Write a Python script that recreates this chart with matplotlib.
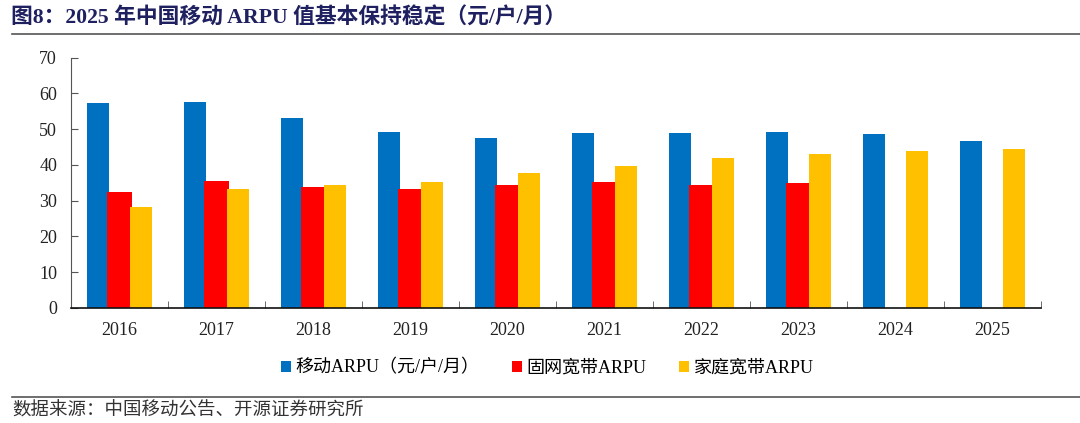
import numpy as np
import matplotlib
matplotlib.use('Agg')
import matplotlib.pyplot as plt
from matplotlib.ticker import FixedLocator

plt.rcParams['font.family'] = ['Liberation Serif', 'Noto Sans CJK SC', 'DejaVu Sans']

# data
years = ['2016', '2017', '2018', '2019', '2020', '2021', '2022', '2023', '2024', '2025']
mobile_arpu = [57.4, 57.6, 53.1, 49.1, 47.4, 48.8, 49.0, 49.3, 48.5, 46.7]
fixed_bb_arpu = [32.4, 35.6, 33.9, 33.2, 34.5, 35.2, 34.5, 34.9, np.nan, np.nan]
home_bb_arpu = [28.2, 33.2, 34.3, 35.2, 37.6, 39.7, 42.0, 43.0, 43.8, 44.4]

labels = ['移动ARPU（元/户/月）', '固网宽带ARPU', '家庭宽带ARPU']
colors = ['#0070C0', '#FF0000', '#FFC000']

fig = plt.figure(figsize=(10.8, 4.23), dpi=100)
ax = fig.add_axes([0.0657, 0.2719, 0.8983, 0.5921])

x = np.arange(len(years))
ax.bar(x - 0.222, mobile_arpu, width=0.227, color=colors[0], label=labels[0])
ax.bar(x, fixed_bb_arpu, width=0.25, color=colors[1], label=labels[1])
ax.bar(x + 0.222, home_bb_arpu, width=0.227, color=colors[2], label=labels[2])

ax.set_xlim(-0.5, len(years) - 0.5)
ax.set_ylim(0, 70)
ax.set_yticks(range(0, 71, 10))
ax.set_xticks(x)
ax.set_xticklabels(years)
ax.xaxis.set_minor_locator(FixedLocator(np.arange(0.5, len(years), 1)))

ax.tick_params(axis='x', which='major', length=0, pad=10, labelsize=13, colors='#222222')
ax.tick_params(axis='x', which='minor', direction='in', length=5, color='#555555')
ax.tick_params(axis='y', direction='in', length=5, color='#555555', pad=10, labelsize=13, labelcolor='#222222')

for s in ['top', 'right']:
    ax.spines[s].set_visible(False)
ax.spines['left'].set_color('#555555')
ax.spines['bottom'].set_color('#111111')
ax.spines['bottom'].set_linewidth(1.2)

fig.legend(loc='center', bbox_to_anchor=(0.507, 0.13), ncol=3, frameon=False,
           handlelength=0.55, handleheight=0.55, handletextpad=0.25,
           columnspacing=1.8, fontsize=13)

# title, rules and source
fig.text(0.010, 0.957, '图8：2025 年中国移动 ARPU 值基本保持稳定（元/户/月）',
         fontsize=15.7, fontweight='bold', color='#1F2060', va='center')
fig.add_artist(plt.Line2D([0.011, 1.0], [0.920, 0.920], color='#555555', lw=1.2))
fig.add_artist(plt.Line2D([0.011, 1.0], [0.062, 0.062], color='#555555', lw=1.2))
fig.text(0.011, 0.030, '数据来源：中国移动公告、开源证券研究所', fontsize=13.3,
         color='#333333', va='center')

fig.savefig('out.png', dpi=100)
